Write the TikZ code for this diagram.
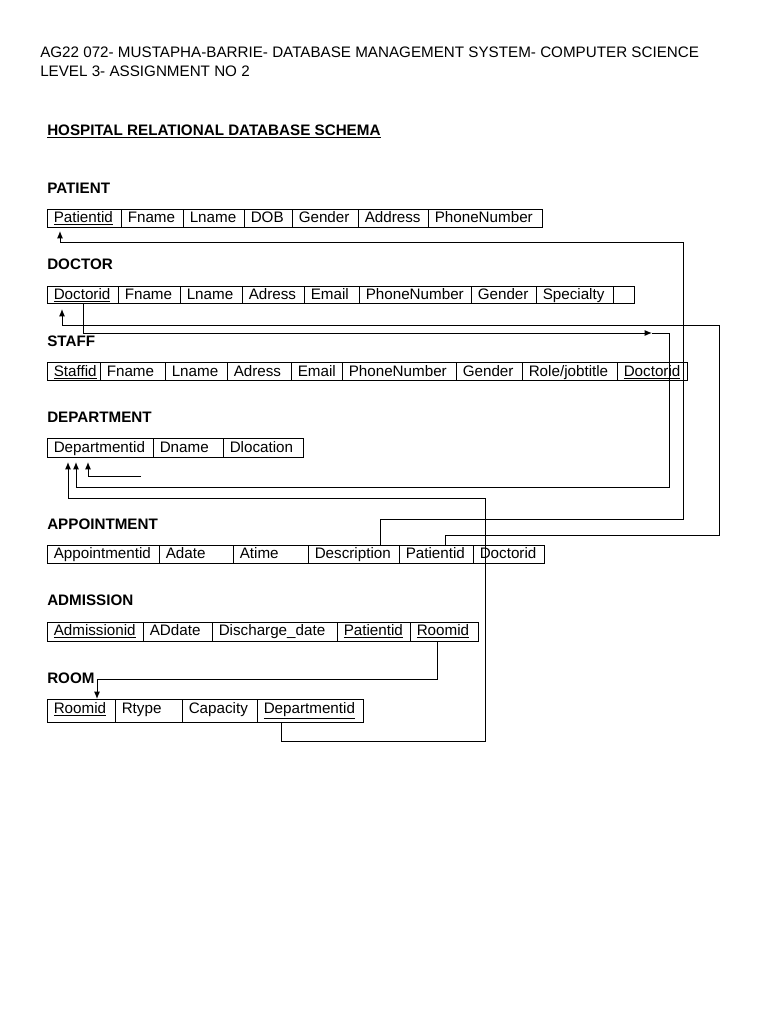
\documentclass[tikz,border=0pt]{standalone}
\usepackage{fontspec}
\setmainfont{Liberation Sans}
\usetikzlibrary{arrows.meta}
\newcommand\fld[7]{%
  \node[cell, anchor=north west, minimum width={(#3-#2)*0.75pt}, minimum height={(#5-#4)*0.75pt}] (#1) at (#2,#4) {};
  \node[lbl] (#1t) at (#2+6.5,#6) {#7};}
\begin{document}
\begin{tikzpicture}[x=0.75pt,y=-0.75pt,
  every node/.style={font=\fontsize{11.4pt}{13pt}\selectfont, inner sep=0pt},
  cell/.style={draw, line width=0.75pt, rectangle},
  lbl/.style={anchor=base west},
  hdr/.style={anchor=base west, font=\fontsize{11.4pt}{13pt}\selectfont\bfseries},
  conn/.style={line width=0.75pt},
  arr/.style={conn,-{Latex[length=5.5pt,width=4.5pt]}}]
\useasboundingbox (0,0) rectangle (768,1024);

% titles
\node[lbl] (t1line) at (40,58) {AG22 072- MUSTAPHA-BARRIE- DATABASE MANAGEMENT SYSTEM- COMPUTER SCIENCE};
\node[lbl] (t2line) at (40,76) {LEVEL 3- ASSIGNMENT NO 2};
\node[hdr] (schema) at (47,135) {\underline{HOSPITAL RELATIONAL DATABASE SCHEMA}};

% headers
\node[hdr] (hPat) at (47,193) {PATIENT};
\node[hdr] (hDoc) at (47,269) {DOCTOR};
\node[hdr] (hSta) at (47,346) {STAFF};
\node[hdr] (hDep) at (47,422) {DEPARTMENT};
\node[hdr] (hApp) at (47,529) {APPOINTMENT};
\node[hdr] (hAdm) at (47,605) {ADMISSION};
\node[hdr] (hRoo) at (47,683) {ROOM};

% PATIENT
\fld{pa1}{47}{121}{209}{227}{222}{\underline{Patientid}}
\fld{pa2}{121}{183}{209}{227}{222}{Fname}
\fld{pa3}{183}{244}{209}{227}{222}{Lname}
\fld{pa4}{244}{292}{209}{227}{222}{DOB}
\fld{pa5}{292}{358}{209}{227}{222}{Gender}
\fld{pa6}{358}{428}{209}{227}{222}{Address}
\fld{pa7}{428}{542}{209}{227}{222}{PhoneNumber}

% DOCTOR
\fld{do1}{47}{118}{286}{303}{299}{\underline{Doctorid}}
\fld{do2}{118}{180}{286}{303}{299}{Fname}
\fld{do3}{180}{242}{286}{303}{299}{Lname}
\fld{do4}{242}{304}{286}{303}{299}{Adress}
\fld{do5}{304}{359}{286}{303}{299}{Email}
\fld{do6}{359}{471}{286}{303}{299}{PhoneNumber}
\fld{do7}{471}{536}{286}{303}{299}{Gender}
\fld{do8}{536}{613}{286}{303}{299}{Specialty}
\fld{do9}{613}{634}{286}{303}{299}{}

% STAFF
\fld{st1}{47}{100}{362}{380}{376}{\underline{Staffid}}
\fld{st2}{100}{165}{362}{380}{376}{Fname}
\fld{st3}{165}{227}{362}{380}{376}{Lname}
\fld{st4}{227}{291}{362}{380}{376}{Adress}
\fld{st5}{291}{342}{362}{380}{376}{Email}
\fld{st6}{342}{456}{362}{380}{376}{PhoneNumber}
\fld{st7}{456}{522}{362}{380}{376}{Gender}
\fld{st8}{522}{617}{362}{380}{376}{Role/jobtitle}
\fld{st9}{617}{687}{362}{380}{376}{\underline{Doctorid}}

% DEPARTMENT
\fld{de1}{47}{153}{438}{457}{452}{\underline{Departmentid}}
\fld{de2}{153}{223}{438}{457}{452}{Dname}
\fld{de3}{223}{303}{438}{457}{452}{Dlocation}

% APPOINTMENT
\fld{ap1}{47}{159}{545}{563}{558}{\underline{Appointmentid}}
\fld{ap2}{159}{233}{545}{563}{558}{Adate}
\fld{ap3}{233}{308}{545}{563}{558}{Atime}
\fld{ap4}{308}{399}{545}{563}{558}{Description}
\fld{ap5}{399}{473}{545}{563}{558}{Patientid}
\fld{ap6}{473}{544}{545}{563}{558}{Doctorid}

% ADMISSION
\fld{ad1}{47}{143}{622}{641}{635}{\underline{Admissionid}}
\fld{ad2}{143}{212}{622}{641}{635}{ADdate}
\fld{ad3}{212}{337}{622}{641}{635}{Discharge\_date}
\fld{ad4}{337}{410}{622}{641}{635}{\underline{Patientid}}
\fld{ad5}{410}{478}{622}{641}{635}{\underline{Roomid}}

% ROOM
\fld{ro1}{47}{115}{699}{722}{713}{\underline{Roomid}}
\fld{ro2}{115}{182}{699}{722}{713}{Rtype}
\fld{ro3}{182}{257}{699}{722}{713}{Capacity}
\fld{ro4}{257}{363}{699}{722}{713}{\underline{Departmentid}}

% connector coordinates
\coordinate (c1a) at (380,519); \coordinate (c1b) at (683,519);
\coordinate (c1c) at (683,242); \coordinate (c1d) at (60,242);
\coordinate (tp1) at (60,231);
\coordinate (c2a) at (445,535); \coordinate (c2b) at (719,535);
\coordinate (c2c) at (719,325); \coordinate (c2d) at (62,325);
\coordinate (tp2) at (62,309);
\coordinate (c3a) at (83,333); \coordinate (m3) at (652,333);
\coordinate (c3b) at (669,333); \coordinate (c3c) at (669,487);
\coordinate (c3d) at (76,487); \coordinate (tp3) at (76,462);
\coordinate (s4) at (141,476); \coordinate (c4a) at (88,476);
\coordinate (tp4) at (88,462);
\coordinate (c5a) at (281,741); \coordinate (c5b) at (485,741);
\coordinate (c5c) at (485,498); \coordinate (c5d) at (68,498);
\coordinate (tp5) at (68,462);
\coordinate (c6a) at (437,679); \coordinate (c6b) at (97,679);

% connectors
\draw[arr] (ap4.north -| c1a) -- (c1a) -- (c1b) -- (c1c) -- (c1d) -- (tp1);
\draw[arr] (ap5.north -| c2a) -- (c2a) -- (c2b) -- (c2c) -- (c2d) -- (tp2);
\draw[arr] (do1.south -| c3a) -- (c3a) -- (m3);
\draw[arr] (m3) -- (c3b) -- (c3c) -- (c3d) -- (tp3);
\draw[arr] (s4) -- (c4a) -- (tp4);
\draw[arr] (ro4.south -| c5a) -- (c5a) -- (c5b) -- (c5c) -- (c5d) -- (tp5);
\draw[arr] (ad5.south -| c6a) -- (c6a) -- (c6b) -- (ro1.north -| c6b);
\end{tikzpicture}
\end{document}
